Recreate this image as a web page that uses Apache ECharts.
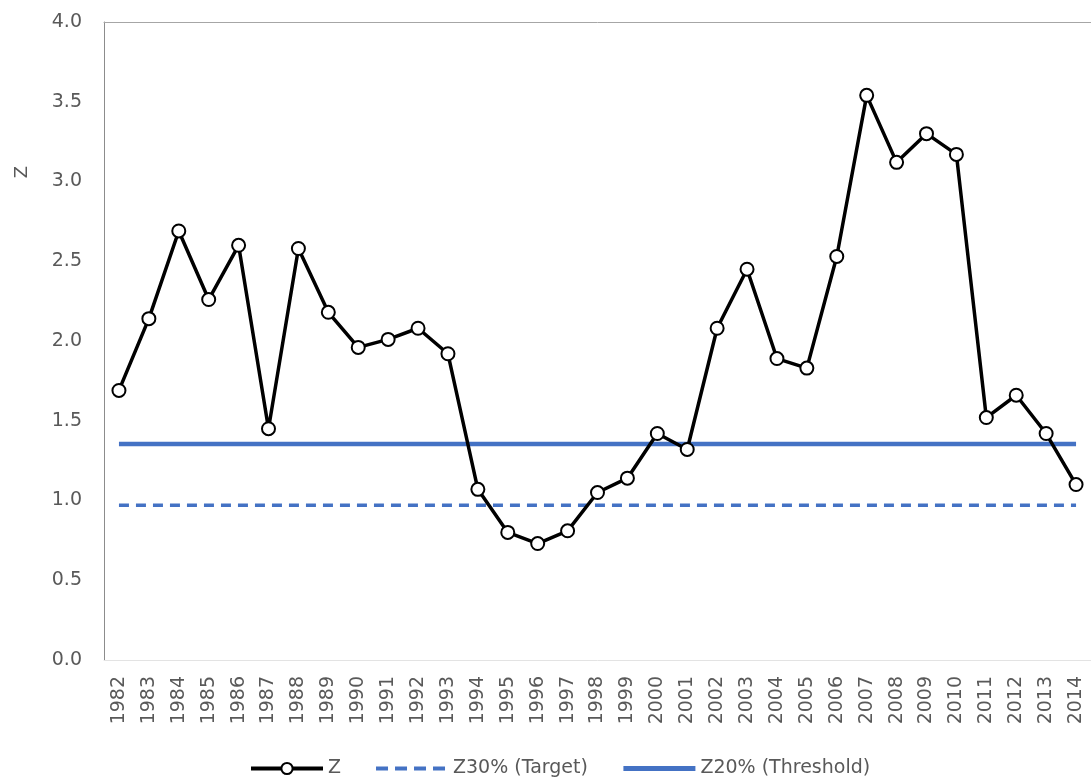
<!DOCTYPE html>
<html>
<head>
<meta charset="utf-8">
<script src="https://cdn.jsdelivr.net/npm/echarts@6/dist/echarts.min.js"></script>
<style>
  html, body { margin: 0; padding: 0; background: #fff; }
  #chart { width: 1091px; height: 782px; }
</style>
</head>
<body>
<div id="chart"></div>
<script>
// Years on the category axis
const years = ['1982','1983','1984','1985','1986','1987','1988','1989','1990','1991',
  '1992','1993','1994','1995','1996','1997','1998','1999','2000','2001','2002','2003',
  '2004','2005','2006','2007','2008','2009','2010','2011','2012','2013','2014'];

// Annual Z values
const zValues = [1.69, 2.14, 2.69, 2.26, 2.60, 1.45, 2.58, 2.18, 1.96, 2.01,
  2.08, 1.92, 1.07, 0.80, 0.73, 0.81, 1.05, 1.14, 1.42, 1.32, 2.08, 2.45,
  1.89, 1.83, 2.53, 3.54, 3.12, 3.30, 3.17, 1.52, 1.66, 1.42, 1.10];

// Reference levels
const targetLevel = 0.97;     // Z30% (Target)
const thresholdLevel = 1.355; // Z20% (Threshold)

const yTicks = { min: 0, max: 4, interval: 0.5 };

const targetValues = years.map(() => targetLevel);
const thresholdValues = years.map(() => thresholdLevel);

const FONT = '"DejaVu Sans", sans-serif';
const GREY = '#595959';
const BLUE = '#4472C4';

const chart = echarts.init(document.getElementById('chart'), null, { renderer: 'canvas' });

chart.setOption({
  animation: false,
  backgroundColor: '#ffffff',
  textStyle: { fontFamily: FONT },
  grid: { left: 104, right: 0, top: 22, bottom: 122 },
  legend: {
    left: 244,
    top: 754,
    itemWidth: 72,
    itemHeight: 14,
    itemGap: 33,
    textStyle: { fontFamily: FONT, fontSize: 19, color: GREY },
    data: [
      { name: 'Z', lineStyle: { width: 4, color: '#000000' },
        itemStyle: { color: '#ffffff', borderColor: '#000000', borderWidth: 2 } },
      { name: 'Z30% (Target)', itemStyle: { opacity: 0 },
        lineStyle: { width: 4, color: BLUE, type: [12, 7] } },
      { name: 'Z20% (Threshold)', itemStyle: { opacity: 0 },
        lineStyle: { width: 5, color: BLUE } }
    ]
  },
  xAxis: [{
    type: 'category',
    data: years,
    boundaryGap: true,
    axisLine: { show: true, lineStyle: { color: '#e3e3e3', width: 1 } },
    axisTick: { show: false },
    axisLabel: {
      rotate: 90,
      margin: 16,
      interval: 0,
      fontFamily: FONT,
      fontSize: 19,
      color: GREY
    },
    splitLine: { show: false }
  }, {
    // top frame line of the plot area
    type: 'category',
    position: 'top',
    data: years,
    axisLine: { show: true, lineStyle: { color: '#a6a6a6', width: 1 } },
    axisTick: { show: false },
    axisLabel: { show: false },
    splitLine: { show: false }
  }],
  yAxis: {
    type: 'value',
    min: yTicks.min,
    max: yTicks.max,
    interval: yTicks.interval,
    axisLine: { show: true, lineStyle: { color: '#8c8c8c', width: 1 } },
    axisTick: { show: false },
    splitLine: { show: false },
    axisLabel: {
      margin: 22,
      fontFamily: FONT,
      fontSize: 19,
      color: GREY,
      formatter: v => v.toFixed(1)
    }
  },
  graphic: [{
    type: 'text',
    x: 22,
    y: 172,
    rotation: Math.PI / 2,
    style: {
      text: 'Z',
      fontFamily: FONT,
      fontSize: 18,
      fill: GREY,
      align: 'center',
      verticalAlign: 'middle'
    }
  }],
  series: [{
    name: 'Z20% (Threshold)',
    type: 'line',
    data: thresholdValues,
    symbol: 'none',
    lineStyle: { color: BLUE, width: 4.5, cap: 'butt' },
    itemStyle: { color: BLUE },
    z: 2
  }, {
    name: 'Z30% (Target)',
    type: 'line',
    data: targetValues,
    symbol: 'none',
    lineStyle: { color: BLUE, width: 3.5, type: [10, 7] },
    itemStyle: { color: BLUE },
    z: 2
  }, {
    name: 'Z',
    type: 'line',
    data: zValues,
    symbol: 'circle',
    symbolSize: 13,
    showSymbol: true,
    lineStyle: { color: '#000000', width: 3.5 },
    itemStyle: { color: '#ffffff', borderColor: '#000000', borderWidth: 2 },
    z: 3
  }]
});
</script>
</body>
</html>
